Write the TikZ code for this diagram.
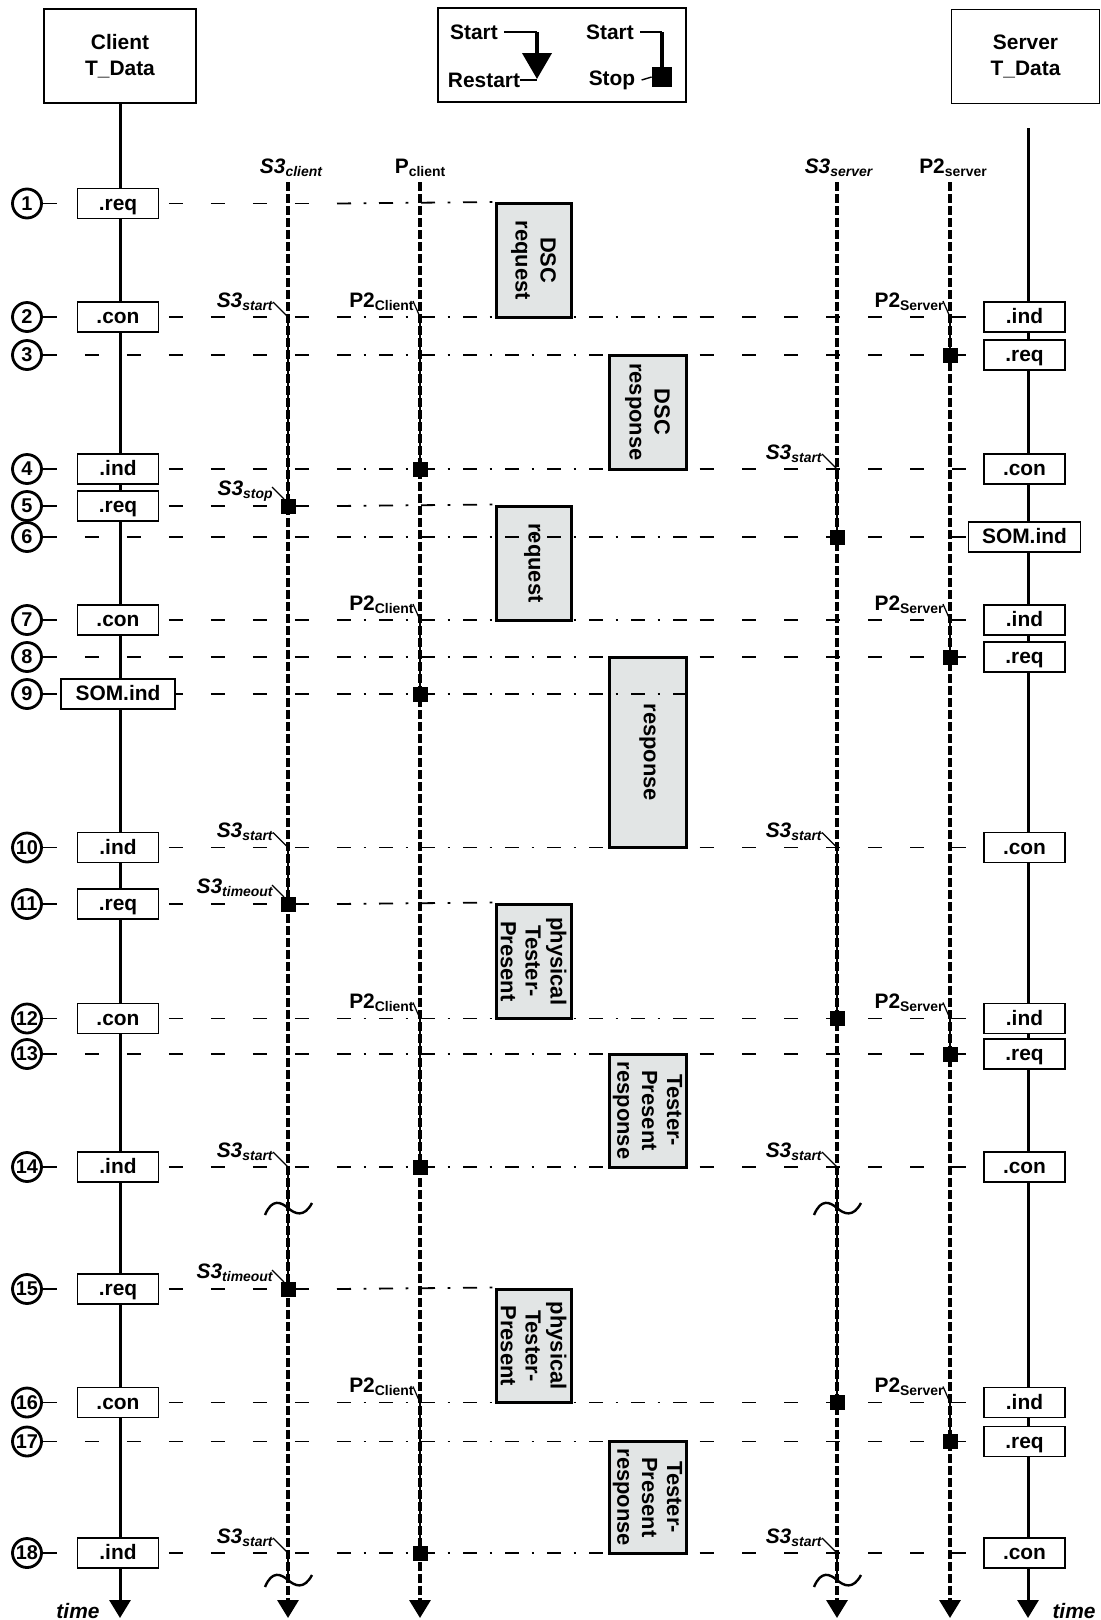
\documentclass[tikz,border=0pt]{standalone}
\usepackage{fontspec}
\setmainfont{Liberation Sans}
\usepackage{xcolor}
\usepackage{tikz}
\usetikzlibrary{arrows.meta,calc,positioning,fit}
\definecolor{msggray}{RGB}{226,229,229}
\newcommand{\tsub}[1]{\raisebox{-0.3ex}{\fontsize{7}{8}\selectfont #1}}
\pgfdeclarelayer{bg}
\pgfsetlayers{bg,main}

\begin{document}
\begin{tikzpicture}[
  x=0.5bp,y=-0.5bp,
  font=\bfseries\fontsize{10.5}{13}\selectfont,
  >={Triangle[width=10.5bp,length=9bp]},
  header/.style={draw,line width=0.9bp,align=center,inner sep=0pt,minimum height=47bp},
  prim/.style={draw,line width=0.9bp,fill=white,inner sep=0pt,minimum width=40.5bp,minimum height=15bp,
               text height=7.8bp,text depth=1.2bp},
  num/.style={draw,circle,line width=1.4bp,fill=white,inner sep=0pt,minimum size=14.5bp,
              font=\bfseries\fontsize{10}{10}\selectfont},
  msgbox/.style={draw,line width=1.5bp,fill=msggray,inner sep=0pt},
  msgtext/.style={rotate=-90,align=center,inner sep=0pt,font=\bfseries\fontsize{11}{12.5}\selectfont},
  msg/.style={line width=0.9bp,dash pattern=on 7bp off 14bp},
  msgdd/.style={line width=0.9bp,dash pattern=on 7bp off 6.3bp on 1.4bp off 6.3bp},
  life/.style={line width=1.5bp},
  timer/.style={line width=1.6bp,dash pattern=on 4.6bp off 1.4bp},
  active/.style={line width=1.1bp},
  tick/.style={line width=0.6bp},
  stopsq/.style={fill=black,inner sep=0pt,minimum size=7.5bp},
  wave/.style={line width=1.2bp},
  tlbl/.style={inner sep=0pt,font=\bfseries\itshape\fontsize{10.5}{12}\selectfont},
  plbl/.style={inner sep=0pt},
  legtxt/.style={inner sep=0pt},
  thinln/.style={line width=0.7bp}
]
\useasboundingbox (0,0) rectangle (1100,1620);

% lanes and helper coordinates
\coordinate (cbx) at (118,0);
\coordinate (sbx) at (1024.5,0);
\coordinate (svtop) at (1028,128);
\coordinate (s3c) at (288,182);
\coordinate (pc) at (420,182);
\coordinate (s3s) at (837,182);
\coordinate (p2s) at (950,182);
\coordinate (reqL) at (496,0);
\coordinate (reqR) at (571,0);
\coordinate (rspL) at (609,0);
\coordinate (rspR) at (686,0);
\coordinate (ddL) at (337,0);
\coordinate (ddR) at (700,0);
\coordinate (brkA) at (0,1208);
\coordinate (brkB) at (0,1580);
\coordinate (tend) at (0,1618);

\node[header,minimum width=76.3bp] (cl) at (120,56) {Client\\T\_Data};
\node[header,minimum width=74bp] (sv) at (1025.5,56.5) {Server\\T\_Data};

\foreach \i/\y in {1/203.5,2/317,3/355,4/469,5/506,6/537,7/620,8/657,9/694,
                   10/847.5,11/904,12/1018.5,13/1054,14/1167,15/1289,16/1402.5,17/1441.5,18/1553}
  \node[num] (n\i) at (27,\y) {\i};

\foreach \i/\txt in {1/.req,2/.con,4/.ind,5/.req,7/.con,10/.ind,11/.req,12/.con,14/.ind,15/.req,16/.con,18/.ind}
  \node[prim] (cb\i) at (n\i -| cbx) {\txt};
\node[prim,minimum width=57bp] (cb9) at (n9 -| cbx) {SOM.ind};

\foreach \i/\txt in {2/.ind,3/.req,4/.con,7/.ind,8/.req,10/.con,12/.ind,13/.req,14/.con,16/.ind,17/.req,18/.con}
  \node[prim] (sb\i) at (n\i -| sbx) {\txt};
\node[prim,minimum width=56bp] (sb6) at (n6 -| sbx) {SOM.ind};

\begin{pgfonlayer}{bg}
\node[msgbox,fit=(n1 -| reqL)(n2 -| reqR)] (dscreq) {};
\node[msgbox,fit=(n3 -| rspL)(n4 -| rspR)] (dscres) {};
\node[msgbox,fit=(n5 -| reqL)(n7 -| reqR)] (req) {};
\node[msgbox,fit=(n8 -| rspL)(n10 -| rspR)] (res) {};
\node[msgbox,fit=(n11 -| reqL)(n12 -| reqR)] (tpa) {};
\node[msgbox,fit=(n13 -| rspL)(n14 -| rspR)] (tpra) {};
\node[msgbox,fit=(n15 -| reqL)(n16 -| reqR)] (tpb) {};
\node[msgbox,fit=(n17 -| rspL)(n18 -| rspR)] (tprb) {};
\node[msgtext] (dscreq-t) at (dscreq) {DSC\\request};
\node[msgtext] (dscres-t) at (dscres) {DSC\\response};
\node[msgtext] (req-t) at (req) {request};
\node[msgtext] (res-t) at (res) {response};
\node[msgtext] (tpa-t) at (tpa) {physical\\Tester-\\Present};
\node[msgtext] (tpra-t) at (tpra) {Tester-\\Present\\response};
\node[msgtext] (tpb-t) at (tpb) {physical\\Tester-\\Present};
\node[msgtext] (tprb-t) at (tprb) {Tester-\\Present\\response};

\draw[life,->] (cl) -- (cl |- tend);
\draw[life,->] (svtop) -- (svtop |- tend);

\foreach \i in {2,3,4,6,7,8,10,12,13,14,16,17,18}{
  \draw[msg] (n\i.east) -- (n\i -| ddL);
  \draw[msgdd] (n\i -| ddL) -- (n\i -| ddR);
  \draw[msg] (n\i -| ddR) -- (sb\i.west);
}
\foreach \i/\mb in {1/dscreq,5/req,11/tpa,15/tpb}{
  \draw[msg] (n\i.east) -- (n\i -| ddL);
  \draw[msgdd] (n\i -| ddL) -- (\mb.north west);
}
\draw[msg] (n9.east) -- (n9 -| ddL);
\draw[msgdd] (n9 -| ddL) -- (n9 -| res.east);
\end{pgfonlayer}

\foreach \lane in {s3c,pc,s3s,p2s}
  \draw[timer,->] (\lane) -- (\lane |- tend);

\node[tlbl,anchor=base] (s3c-l) at (291,173) {S3\tsub{client}};
\node[plbl,anchor=base] (pc-l) at (420,173) {P\tsub{client}};
\node[tlbl,anchor=base] (s3s-l) at (838.5,173) {S3\tsub{server}};
\node[plbl,anchor=base] (p2s-l) at (953,173) {P2\tsub{server}};

\foreach \lane/\a/\b in {s3c/2/5,s3c/10/11,s3c/14/15,pc/2/4,pc/7/9,pc/12/14,pc/16/18,
                         s3s/4/6,s3s/10/12,s3s/14/16,p2s/2/3,p2s/7/8,p2s/12/13,p2s/16/17}
  \draw[active] (\lane |- n\a) -- (\lane |- n\b);
\draw[active] (s3c |- n18) -- (s3c |- brkB);
\draw[active] (s3s |- n18) -- (s3s |- brkB);

\foreach \lane/\r in {s3c/2,s3c/10,s3c/14,s3c/18,s3s/4,s3s/10,s3s/14,s3s/18}{
  \draw[tick] ($(\lane |- n\r)+(-15,-15)$) -- (\lane |- n\r);
  \node[tlbl,anchor=base east] (st-\lane-\r) at ($(\lane |- n\r)+(-15,-10)$) {S3\tsub{start}};
}
\foreach \lane/\r/\what in {s3c/5/stop,s3c/11/timeout,s3c/15/timeout}{
  \draw[tick] ($(\lane |- n\r)+(-16,-19)$) -- ($(\lane |- n\r)+(-4,-7)$);
  \node[tlbl,anchor=base east] (sp-\lane-\r) at ($(\lane |- n\r)+(-15,-11)$) {S3\tsub{\what}};
}
\foreach \lane/\r/\who in {pc/2/Client,pc/7/Client,pc/12/Client,pc/16/Client,
                           p2s/2/Server,p2s/7/Server,p2s/12/Server,p2s/16/Server}{
  \draw[tick] ($(\lane |- n\r)+(-7,-16)$) -- (\lane |- n\r);
  \node[plbl,anchor=base east] (p2-\lane-\r) at ($(\lane |- n\r)+(-6,-10)$) {P2\tsub{\who}};
}
\foreach \lane/\r in {s3c/5,s3c/11,s3c/15,pc/4,pc/9,pc/14,pc/18,s3s/6,s3s/12,s3s/16,
                      p2s/3,p2s/8,p2s/13,p2s/17}
  \node[stopsq] (sq-\lane-\r) at (\lane |- n\r) {};

\foreach \lane in {s3c,s3s}
  \foreach \brk in {brkA,brkB}{
    \begin{scope}[shift={(\lane |- \brk)}]
      \draw[wave] (-23,7) .. controls (-16,-10) and (-7,-6) .. (0,0)
                          .. controls (7,6) and (16,10) .. (24,-5);
    \end{scope}
  }

\node[tlbl,anchor=base] (tl) at (78,1618) {time};
\node[tlbl,anchor=base] (tr) at (1074,1618) {time};

% legend
\node[draw,line width=0.7bp,minimum width=124bp,minimum height=47bp,inner sep=0pt] (legend) at (562,55) {};
\node[legtxt] (ls1) at (474,32) {Start};
\node[legtxt] (lrs) at (484,80) {Restart};
\coordinate (la) at (537,32);
\coordinate (lb) at (537,79);
\draw[thinln] ([xshift=3bp]ls1.east) -- (la);
\draw[line width=2bp,-{Triangle[width=14.5bp,length=13bp]}] (la) -- (lb);
\draw[thinln] (lrs.east) -- (lrs.east -| lb);
\node[legtxt] (ls2) at (610,32) {Start};
\node[legtxt] (lst) at (612,80) {Stop};
\coordinate (lc) at (662,32);
\node[fill=black,inner sep=0pt,minimum size=10bp] (lsq) at (662,77) {};
\draw[thinln] ([xshift=3bp]ls2.east) -- (lc);
\draw[line width=2bp] (lc) -- (lsq);
\draw[thinln] ([xshift=3bp]lst.east) -- (lsq.west);
\end{tikzpicture}
\end{document}
